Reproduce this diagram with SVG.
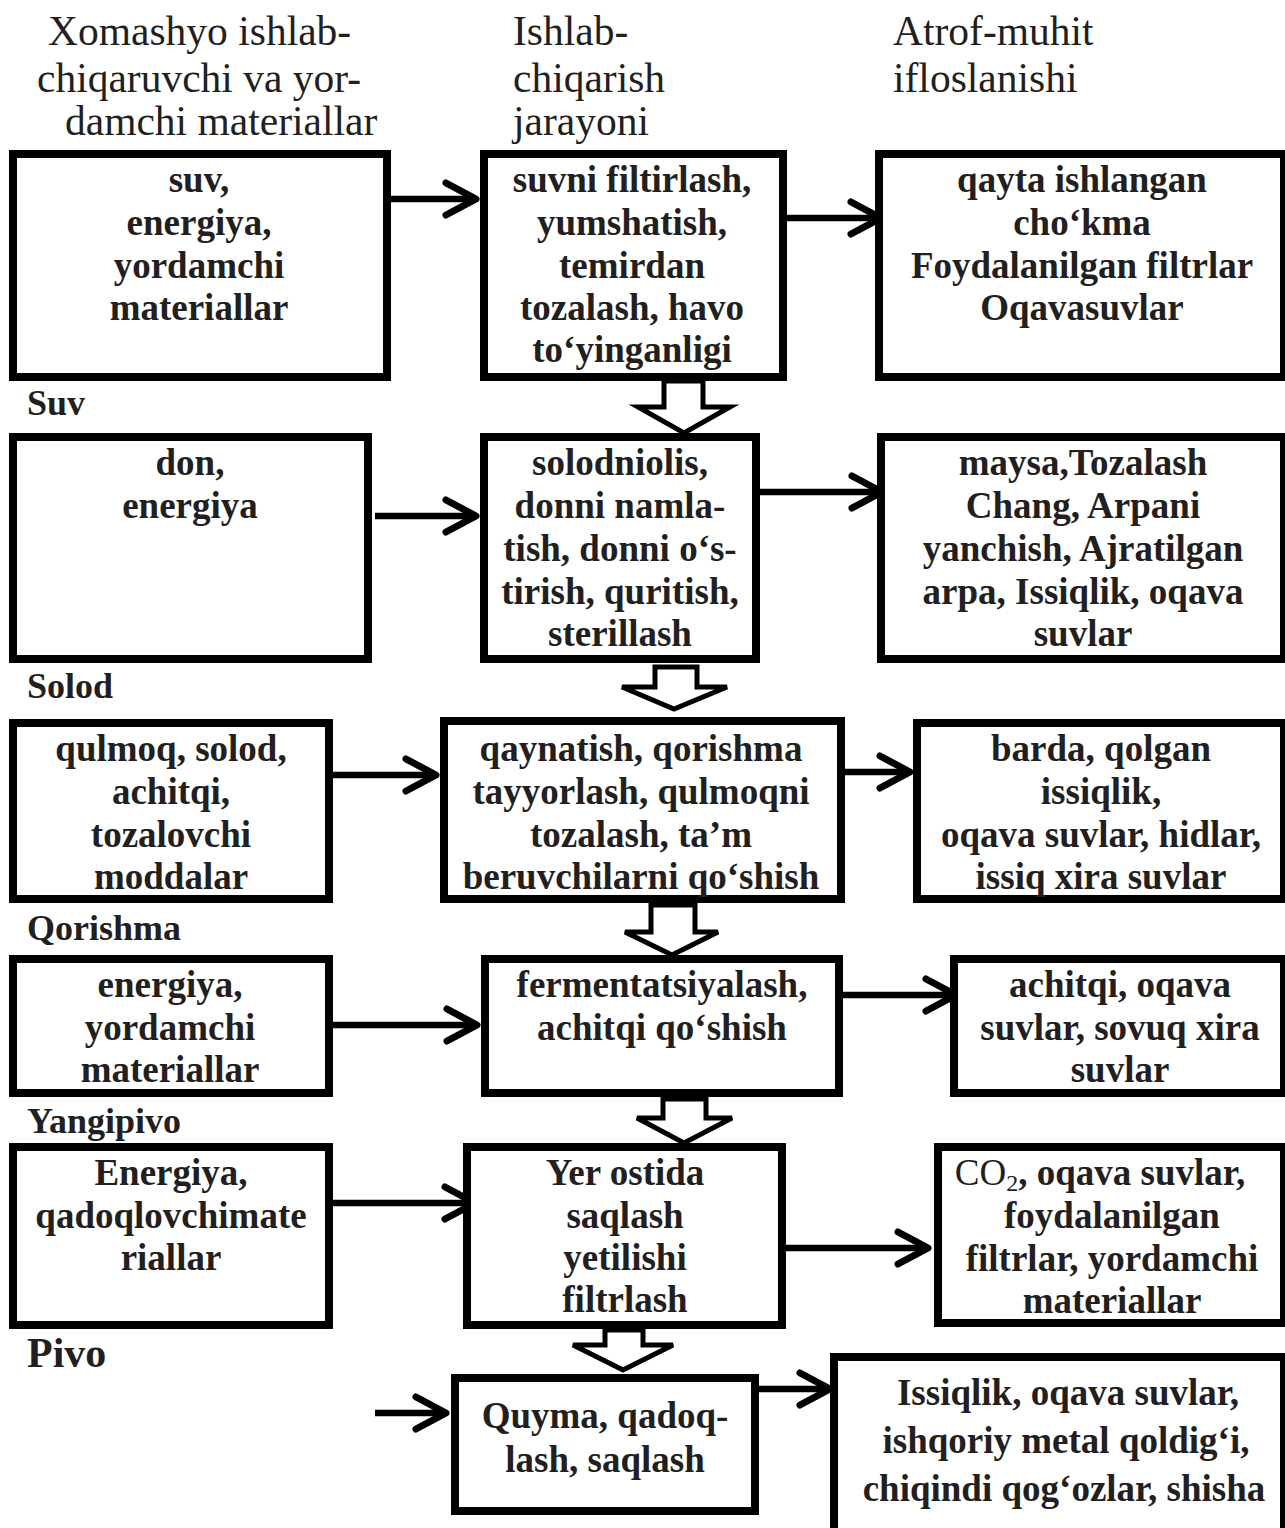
<svg xmlns="http://www.w3.org/2000/svg" width="1285" height="1528" viewBox="0 0 1285 1528">
<style>
.box{fill:#fff;stroke:#000;stroke-width:8}
.t{font-family:"Liberation Serif","Times New Roman",serif;font-weight:bold;font-size:37px;fill:#231f20;text-anchor:middle}
.r{font-weight:normal}
.h{font-family:"Liberation Serif","Times New Roman",serif;font-size:41.5px;fill:#231f20}
.lbl{font-family:"Liberation Serif","Times New Roman",serif;font-weight:bold;font-size:36px;fill:#231f20}
.c{stroke:#000;stroke-width:6.5;fill:none}
.ha{fill:#fff;stroke:#000;stroke-width:5;stroke-linejoin:miter}
</style>
<defs>
<marker id="arr" viewBox="-36 -20 40 40" refX="0" refY="0" markerWidth="40" markerHeight="40" markerUnits="userSpaceOnUse" orient="auto">
<path d="M-30,-16 L0,0 L-30,16" fill="none" stroke="#000" stroke-width="7" stroke-linecap="round" stroke-linejoin="round"/>
</marker>
</defs>
<rect width="1285" height="1528" fill="#fff"/>

<g id="headers">
<text class="h" x="48" y="45">Xomashyo ishlab-</text>
<text class="h" x="37" y="92">chiqaruvchi va yor-</text>
<text class="h" x="65" y="135">damchi materiallar</text>
<text class="h" x="513" y="45">Ishlab-</text>
<text class="h" x="513" y="92">chiqarish</text>
<text class="h" x="513" y="135">jarayoni</text>
<text class="h" x="893" y="45">Atrof-muhit</text>
<text class="h" x="893" y="92">ifloslanishi</text>
</g>

<g id="labels">
<text class="lbl" x="27" y="415">Suv</text>
<text class="lbl" x="27" y="698">Solod</text>
<text class="lbl" x="27" y="940">Qorishma</text>
<text class="lbl" x="27" y="1133">Yangipivo</text>
<text class="lbl" x="27" y="1367" style="font-size:42px">Pivo</text>
</g>

<g id="connectors">
<line class="c" x1="391" y1="199" x2="476" y2="199" marker-end="url(#arr)"/>
<line class="c" x1="787" y1="218" x2="881" y2="218" marker-end="url(#arr)"/>
<line class="c" x1="375" y1="516" x2="476" y2="516" marker-end="url(#arr)"/>
<line class="c" x1="760" y1="492" x2="882" y2="492" marker-end="url(#arr)"/>
<line class="c" x1="323" y1="775" x2="436" y2="775" marker-end="url(#arr)"/>
<line class="c" x1="835" y1="772" x2="910" y2="772" marker-end="url(#arr)"/>
<line class="c" x1="323" y1="1025" x2="477" y2="1025" marker-end="url(#arr)"/>
<line class="c" x1="835" y1="995" x2="956" y2="995" marker-end="url(#arr)"/>
<line class="c" x1="323" y1="1203" x2="475" y2="1203" marker-end="url(#arr)"/>
<line class="c" x1="786" y1="1248" x2="928" y2="1248" marker-end="url(#arr)"/>
<line class="c" x1="375" y1="1413" x2="446" y2="1413" marker-end="url(#arr)"/>
<line class="c" x1="759" y1="1389" x2="830" y2="1389" marker-end="url(#arr)"/>
<polygon class="ha" points="664,381 703,381 703,407 730,407 684,433 638,407 664,407"/>
<polygon class="ha" points="655,667 697,667 697,687 727,687 674,709 622,687 655,687"/>
<polygon class="ha" points="651,905 695,905 695,932 718,932 672,955 625,932 651,932"/>
<polygon class="ha" points="663,1099 706,1099 706,1118 732,1118 684,1143 637,1118 663,1118"/>
<polygon class="ha" points="605,1330 643,1330 643,1345 673,1345 623,1370 573,1345 605,1345"/>
</g>

<g id="n-a1">
<rect class="box" x="13" y="154" width="374" height="223"/>
<text class="t" x="199" y="192">suv,</text>
<text class="t" x="199" y="235">energiya,</text>
<text class="t" x="199" y="278">yordamchi</text>
<text class="t" x="199" y="320">materiallar</text>
</g>
<g id="n-b1">
<rect class="box" x="484" y="154" width="299" height="223"/>
<text class="t" x="632" y="192">suvni filtirlash,</text>
<text class="t" x="632" y="235">yumshatish,</text>
<text class="t" x="632" y="278">temirdan</text>
<text class="t" x="632" y="320">tozalash, havo</text>
<text class="t" x="632" y="362">to‘yinganligi</text>
</g>
<g id="n-c1">
<rect class="box" x="879" y="154" width="405" height="223"/>
<text class="t" x="1082" y="192">qayta ishlangan</text>
<text class="t" x="1082" y="235">cho‘kma</text>
<text class="t" x="1082" y="278">Foydalanilgan filtrlar</text>
<text class="t" x="1082" y="320">Oqavasuvlar</text>
</g>

<g id="n-a2">
<rect class="box" x="13" y="437" width="355" height="222"/>
<text class="t" x="190" y="475">don,</text>
<text class="t" x="190" y="518">energiya</text>
</g>
<g id="n-b2">
<rect class="box" x="484" y="437" width="272" height="222"/>
<text class="t" x="620" y="475">solodniolis,</text>
<text class="t" x="620" y="518">donni namla-</text>
<text class="t" x="620" y="561">tish, donni o‘s-</text>
<text class="t" x="620" y="604">tirish, quritish,</text>
<text class="t" x="620" y="646">sterillash</text>
</g>
<g id="n-c2">
<rect class="box" x="881" y="437" width="403" height="222"/>
<text class="t" x="1083" y="475">maysa,Tozalash</text>
<text class="t" x="1083" y="518">Chang, Arpani</text>
<text class="t" x="1083" y="561">yanchish, Ajratilgan</text>
<text class="t" x="1083" y="604">arpa, Issiqlik, oqava</text>
<text class="t" x="1083" y="646">suvlar</text>
</g>

<g id="n-a3">
<rect class="box" x="13" y="723" width="316" height="176"/>
<text class="t" x="171" y="761">qulmoq, solod,</text>
<text class="t" x="171" y="804">achitqi,</text>
<text class="t" x="171" y="847">tozalovchi</text>
<text class="t" x="171" y="889">moddalar</text>
</g>
<g id="n-b3">
<rect class="box" x="444" y="721" width="397" height="178"/>
<text class="t" x="641" y="761">qaynatish, qorishma</text>
<text class="t" x="641" y="804">tayyorlash, qulmoqni</text>
<text class="t" x="641" y="847">tozalash, ta’m</text>
<text class="t" x="641" y="889">beruvchilarni qo‘shish</text>
</g>
<g id="n-c3">
<rect class="box" x="917" y="723" width="367" height="176"/>
<text class="t" x="1101" y="761">barda, qolgan</text>
<text class="t" x="1101" y="804">issiqlik,</text>
<text class="t" x="1101" y="847">oqava suvlar, hidlar,</text>
<text class="t" x="1101" y="889">issiq xira suvlar</text>
</g>

<g id="n-a4">
<rect class="box" x="13" y="959" width="316" height="134"/>
<text class="t" x="170" y="997">energiya,</text>
<text class="t" x="170" y="1040">yordamchi</text>
<text class="t" x="170" y="1082">materiallar</text>
</g>
<g id="n-b4">
<rect class="box" x="485" y="959" width="354" height="134"/>
<text class="t" x="662" y="997">fermentatsiyalash,</text>
<text class="t" x="662" y="1040">achitqi qo‘shish</text>
</g>
<g id="n-c4">
<rect class="box" x="954" y="959" width="330" height="134"/>
<text class="t" x="1120" y="997">achitqi, oqava</text>
<text class="t" x="1120" y="1040">suvlar, sovuq xira</text>
<text class="t" x="1120" y="1082">suvlar</text>
</g>

<g id="n-a5">
<rect class="box" x="13" y="1147" width="316" height="178"/>
<text class="t" x="171" y="1185">Energiya,</text>
<text class="t" x="171" y="1228">qadoqlovchimate</text>
<text class="t" x="171" y="1270">riallar</text>
</g>
<g id="n-b5">
<rect class="box" x="467" y="1147" width="315" height="178"/>
<text class="t" x="625" y="1185">Yer ostida</text>
<text class="t" x="625" y="1228">saqlash</text>
<text class="t" x="625" y="1270">yetilishi</text>
<text class="t" x="625" y="1312">filtrlash</text>
</g>
<g id="n-c5">
<rect class="box" x="938" y="1147" width="346" height="176"/>
<text class="t" x="1100" y="1185"><tspan class="r">CO</tspan><tspan class="r" font-size="24" dy="6">2</tspan><tspan dy="-6">, oqava suvlar,</tspan></text>
<text class="t" x="1112" y="1228">foydalanilgan</text>
<text class="t" x="1112" y="1271">filtrlar, yordamchi</text>
<text class="t" x="1112" y="1313">materiallar</text>
</g>

<g id="n-b6">
<rect class="box" x="455" y="1378" width="300" height="133"/>
<text class="t" x="605" y="1428">Quyma, qadoq-</text>
<text class="t" x="605" y="1472">lash, saqlash</text>
</g>
<g id="n-c6">
<rect class="box" x="834" y="1357" width="450" height="200"/>
<text class="t" x="1068" y="1405">Issiqlik, oqava suvlar,</text>
<text class="t" x="1066" y="1453">ishqoriy metal qoldig‘i,</text>
<text class="t" x="1064" y="1501">chiqindi qog‘ozlar, shisha</text>
</g>
</svg>
